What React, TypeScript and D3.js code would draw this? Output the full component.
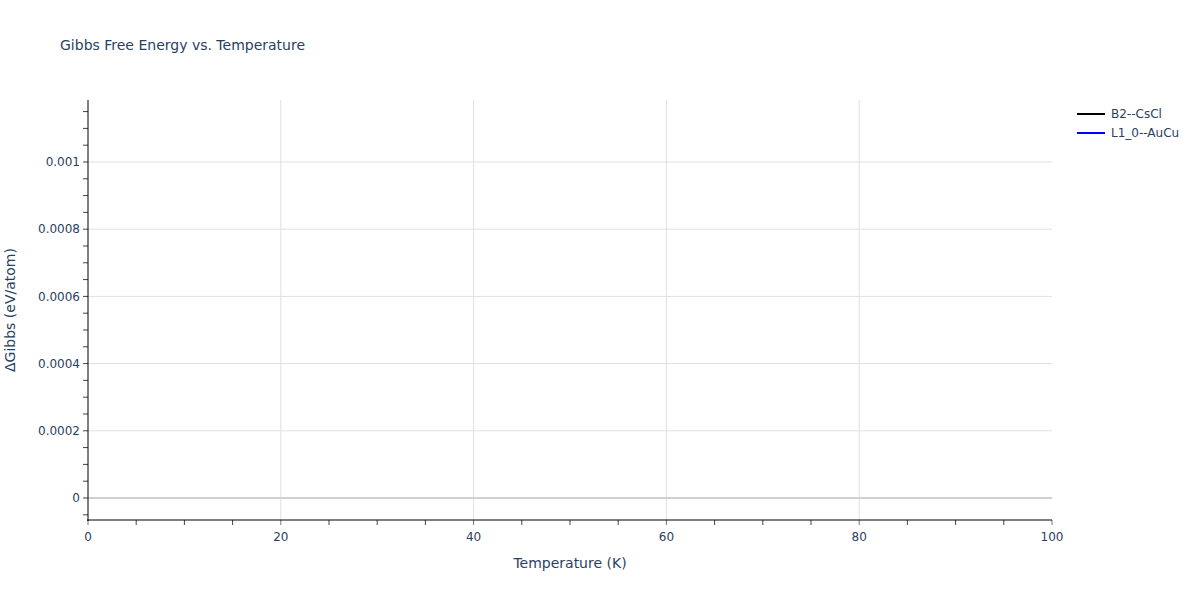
import { useEffect, useRef } from "react";
import * as d3 from "d3";

// temperatures (K) and ΔG (eV/atom) per phase; the reference shows no visible points
const seriesNames = ["B2--CsCl", "L1_0--AuCu"];
const seriesColors = ["#000000", "#0000ff"];
const b2Temps: number[] = [];
const b2Gibbs: number[] = [];
const l10Temps: number[] = [];
const l10Gibbs: number[] = [];

const xTicks = [0, 20, 40, 60, 80, 100];
const yTicks = [0, 0.0002, 0.0004, 0.0006, 0.0008, 0.001];

const W = 1200, H = 600;
const m = { l: 88, r: 148, t: 100, b: 80 };
const FONT = '"DejaVu Sans", verdana, arial, sans-serif';
const TEXT = "#2a3f5f";

export default function App() {
  const ref = useRef<SVGSVGElement | null>(null);

  useEffect(() => {
    document.body.style.margin = "0";
    const svg = d3.select(ref.current);
    svg.selectAll("*").remove();

    const x = d3.scaleLinear().domain([0, 100]).range([m.l, W - m.r]);
    const y = d3.scaleLinear().domain([-0.0000655, 0.0011845]).range([H - m.b, m.t]);

    svg.append("rect").attr("width", W).attr("height", H).attr("fill", "white");

    // grid
    const grid = svg.append("g");
    xTicks.filter(t => t > 0 && t < 100).forEach(t => {
      grid.append("line")
        .attr("x1", x(t)).attr("x2", x(t))
        .attr("y1", m.t).attr("y2", H - m.b)
        .attr("stroke", "#e0e0e0").attr("stroke-width", 1);
    });
    yTicks.filter(t => t !== 0).forEach(t => {
      grid.append("line")
        .attr("x1", m.l).attr("x2", W - m.r)
        .attr("y1", y(t)).attr("y2", y(t))
        .attr("stroke", "#e0e0e0").attr("stroke-width", 1);
    });
    grid.append("line")
      .attr("x1", m.l).attr("x2", W - m.r)
      .attr("y1", y(0)).attr("y2", y(0))
      .attr("stroke", "#d0d0d0").attr("stroke-width", 2);

    // traces
    const line = d3.line<[number, number]>().x(d => x(d[0])).y(d => y(d[1]));
    const traces: [number, number][][] = [
      b2Temps.map((t, i) => [t, b2Gibbs[i]]),
      l10Temps.map((t, i) => [t, l10Gibbs[i]])
    ];
    traces.forEach((pts, i) => {
      if (!pts.length) return;
      svg.append("path")
        .datum(pts)
        .attr("d", line)
        .attr("fill", "none")
        .attr("stroke", seriesColors[i])
        .attr("stroke-width", 2);
    });

    // x axis
    const xMinor = d3.range(0, 101, 5);
    const xa = svg.append("g").attr("transform", `translate(0,${H - m.b})`);
    xMinor.forEach(t => {
      xa.append("line")
        .attr("x1", x(t)).attr("x2", x(t))
        .attr("y1", 0).attr("y2", 5)
        .attr("stroke", xTicks.includes(t) ? "#777" : "#444").attr("stroke-width", 1);
    });
    xa.append("line").attr("x1", m.l - 1).attr("x2", W - m.r).attr("stroke", "#000").attr("stroke-width", 1);
    xTicks.forEach(t => {
      xa.append("text")
        .attr("x", x(t)).attr("y", 21)
        .attr("text-anchor", "middle")
        .attr("font-family", FONT).attr("font-size", 12).attr("fill", TEXT)
        .text(d3.format("d")(t));
    });

    // y axis
    const yMinor = d3.range(-1, 24).map(k => k * 0.00005);
    const ya = svg.append("g").attr("transform", `translate(${m.l},0)`);
    yMinor.forEach(t => {
      if (y(t) > H - m.b || y(t) < m.t) return;
      ya.append("line")
        .attr("x1", -5).attr("x2", 0)
        .attr("y1", y(t)).attr("y2", y(t))
        .attr("stroke", "#444").attr("stroke-width", 1);
    });
    ya.append("line").attr("y1", m.t).attr("y2", H - m.b + 1).attr("stroke", "#000").attr("stroke-width", 1);
    yTicks.forEach(t => {
      ya.append("text")
        .attr("x", -8).attr("y", y(t)).attr("dy", "0.35em")
        .attr("text-anchor", "end")
        .attr("font-family", FONT).attr("font-size", 12).attr("fill", TEXT)
        .text(t === 0 ? "0" : String(+t.toFixed(4)));
    });

    // titles
    svg.append("text")
      .attr("x", 60).attr("y", 50)
      .attr("font-family", FONT).attr("font-size", 14).attr("fill", TEXT)
      .text("Gibbs Free Energy vs. Temperature");
    svg.append("text")
      .attr("x", (m.l + W - m.r) / 2).attr("y", 568)
      .attr("text-anchor", "middle")
      .attr("font-family", FONT).attr("font-size", 14).attr("fill", TEXT)
      .text("Temperature (K)");
    svg.append("text")
      .attr("transform", `translate(15,${(m.t + H - m.b) / 2}) rotate(-90)`)
      .attr("text-anchor", "middle")
      .attr("font-family", FONT).attr("font-size", 14).attr("fill", TEXT)
      .text("ΔGibbs (eV/atom)");

    // legend
    const lg = svg.append("g").attr("transform", "translate(1077,114)");
    seriesNames.forEach((name, i) => {
      const row = lg.append("g").attr("transform", `translate(0,${i * 19})`);
      row.append("line").attr("x1", 0).attr("x2", 28)
        .attr("stroke", seriesColors[i]).attr("stroke-width", 2);
      row.append("text")
        .attr("x", 34).attr("dy", "0.35em")
        .attr("font-family", FONT).attr("font-size", 12).attr("fill", TEXT)
        .text(name);
    });
  }, []);

  return <svg ref={ref} width={W} height={H} style={{ display: "block" }} />;
}
